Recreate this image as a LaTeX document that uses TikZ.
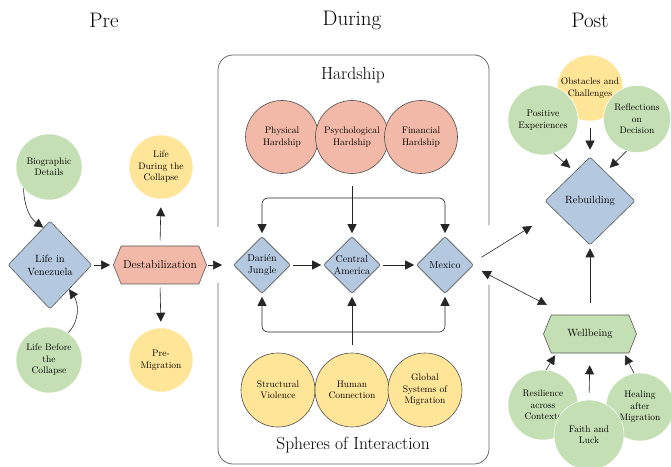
\documentclass[tikz,border=0pt]{standalone}
\usepackage{fontspec}
\usetikzlibrary{arrows.meta,shapes.geometric,shapes.symbols,calc}
\definecolor{cblue}{HTML}{B4C8E0}
\definecolor{cred}{HTML}{F2B9A8}
\definecolor{cgreen}{HTML}{C5DFB4}
\definecolor{cyel}{HTML}{FFE597}
\begin{document}
\begin{tikzpicture}[x=1pt,y=1pt,
  arr/.style={draw=black!85, line width=0.6pt, -{Triangle[length=9pt,width=9pt]}},
  darr/.style={draw=black!85, line width=0.6pt, {Triangle[length=9pt,width=9pt]}-{Triangle[length=9pt,width=9pt]}},
  boxline/.style={draw=black!60, line width=0.8pt, rounded corners=15pt},
  circ/.style={circle, inner sep=0pt, align=center, font=\fontsize{9.5}{11.5}\selectfont},
  hard/.style={circ, fill=cred, draw=black!70, line width=0.6pt, minimum size=73pt},
  sph/.style={circ, fill=cyel, draw=black!70, line width=0.6pt, minimum size=74pt},
  gc/.style={circ, fill=cgreen, draw=white, line width=0.5pt},
  yc/.style={circ, fill=cyel, draw=white, line width=0.5pt},
  dia/.style={diamond, fill=cblue, draw=black!65, line width=0.6pt, rounded corners=2pt, inner sep=0pt, align=center, font=\fontsize{10}{12}\selectfont},
  hexa/.style={signal, signal to=west and east, signal pointer angle=136, fill=cred, draw=black!65, line width=0.6pt, align=center, font=\fontsize{11.5}{13}\selectfont, inner sep=2pt},
  title/.style={font=\fontsize{21}{26}\selectfont},
  sub/.style={font=\fontsize{17.5}{22}\selectfont}
]
\useasboundingbox (0,0) rectangle (671,466);

% titles
\node[title] (tpre) at (104,446) {Pre};
\node[title] (tdur) at (352,446) {During};
\node[title] (tpost) at (590,446) {Post};

% box
\draw[boxline] (218,183) -- (218,2) -- (489,2) -- (489,181);
\draw[boxline] (218,239) -- (218,411) -- (489,411) -- (489,241);
\node[sub] (thard) at (353,391) {Hardship};
\node[sub] (tsph) at (353,21) {Spheres of Interaction};

% hardship
\node[hard] (phy) at (282,329) {Physical\\Hardship};
\node[hard] (psy) at (352,329) {Psychological\\Hardship};
\node[hard] (fin) at (421,329) {Financial\\Hardship};

% route
\node[dia, minimum width=57pt, minimum height=57pt] (dj) at (262,201) {Darién\\Jungle};
\node[dia, minimum width=57pt, minimum height=57pt] (ca) at (352,201) {Central\\America};
\node[dia, minimum width=57pt, minimum height=57pt] (mx) at (445,201) {Mexico};

\coordinate (hj) at (352,268);
\draw[arr, shorten <=12pt, shorten >=3pt] (psy.south) -- (ca.north);
\draw[arr, rounded corners=6pt, shorten >=3pt] (hj) -| (dj.north);
\draw[arr, rounded corners=6pt, shorten >=3pt] (hj) -| (mx.north);
\draw[arr, shorten <=2pt, shorten >=2pt] (dj.east) -- (ca.west);
\draw[arr, shorten <=2pt, shorten >=2pt] (ca.east) -- (mx.west);

% spheres
\node[sph] (sv) at (278,76) {Structural\\Violence};
\node[sph] (hc) at (352,76) {Human\\Connection};
\node[sph] (gs) at (425,76) {Global\\Systems of\\Migration};
\coordinate (hb) at (352,134);
\draw[arr, shorten <=8pt, shorten >=3pt] (hc.north) -- (ca.south);
\draw[arr, rounded corners=6pt, shorten >=3pt] (hb) -| (dj.south);
\draw[arr, rounded corners=6pt, shorten >=3pt] (hb) -| (mx.south);

% pre
\node[gc, minimum size=66pt] (bio) at (49,299) {Biographic\\Details};
\node[dia, minimum width=84pt, minimum height=88pt, font=\fontsize{10.5}{13}\selectfont] (ven) at (50,201) {Life in\\Venezuela};
\node[gc, minimum size=66pt] (lbc) at (49,106) {Life Before\\the\\Collapse};
\node[hexa, minimum width=86pt, minimum height=38pt] (des) at (160,201) {Destabilization};
\node[yc, minimum size=64pt] (ldc) at (161,299) {Life\\During the\\Collapse};
\node[yc, minimum size=64pt] (pm) at (161,106) {Pre-\\Migration};
\coordinate (din) at (222,201);

\draw[arr] (bio.220) to[out=272,in=145] (ven.100);
\draw[arr] (lbc.55) to[out=45,in=-55] (ven.-52);
\draw[arr, shorten <=2pt, shorten >=3pt] (ven.east) -- (des.west);
\draw[arr, shorten <=5pt, shorten >=8pt] (des.north) -- (ldc.south);
\draw[arr, shorten <=3pt, shorten >=6pt] (des.south) -- (pm.north);
\draw[arr, shorten <=1pt] (des.east) -- (din);

% post
\node[yc, minimum size=66pt] (obs) at (590,378) {Obstacles and\\Challenges};
\node[gc, minimum size=70pt] (pos) at (543,346) {Positive\\Experiences};
\node[gc, minimum size=67pt] (ref) at (637,347) {Reflections\\on\\Decision};
\node[dia, minimum width=90pt, minimum height=88pt, font=\fontsize{10.5}{13}\selectfont] (reb) at (590,265) {Rebuilding};
\draw[arr, shorten <=7pt, shorten >=7pt] (obs.south) -- (reb.north);
\draw[arr] (pos.-72) -- ([shift={(3,11)}]reb.north west);
\draw[arr] (ref.-108) -- ([shift={(-3,11)}]reb.north east);

\node[hexa, fill=cgreen, minimum width=93pt, minimum height=38pt, font=\fontsize{10.5}{13}\selectfont] (wb) at (590,132) {Wellbeing};
\draw[arr, shorten <=12pt, shorten >=3pt] (wb.north) -- (reb.south);

\node[gc, minimum size=70pt] (res) at (543,61) {Resilience\\across\\Contexts};
\node[gc, minimum size=68pt] (heal) at (640,59) {Healing\\after\\Migration};
\node[gc, minimum size=70pt] (fl) at (589,31) {Faith and\\Luck};
\draw[arr] (res.85) -- ([shift={(-35,-2)}]wb.south);
\draw[arr, shorten <=7pt, shorten >=12pt] (fl.north) -- (wb.south);
\draw[arr] (heal.100) -- ([shift={(35,-2)}]wb.south);

% mexico links
\coordinate (rebin) at (532,240);
\coordinate (wbin) at (547,161);
\draw[arr, shorten <=9pt] ([yshift=3pt]mx.east) -- (rebin);
\draw[darr, shorten <=9pt] ([yshift=-2pt]mx.east) -- (wbin);
\end{tikzpicture}
\end{document}
